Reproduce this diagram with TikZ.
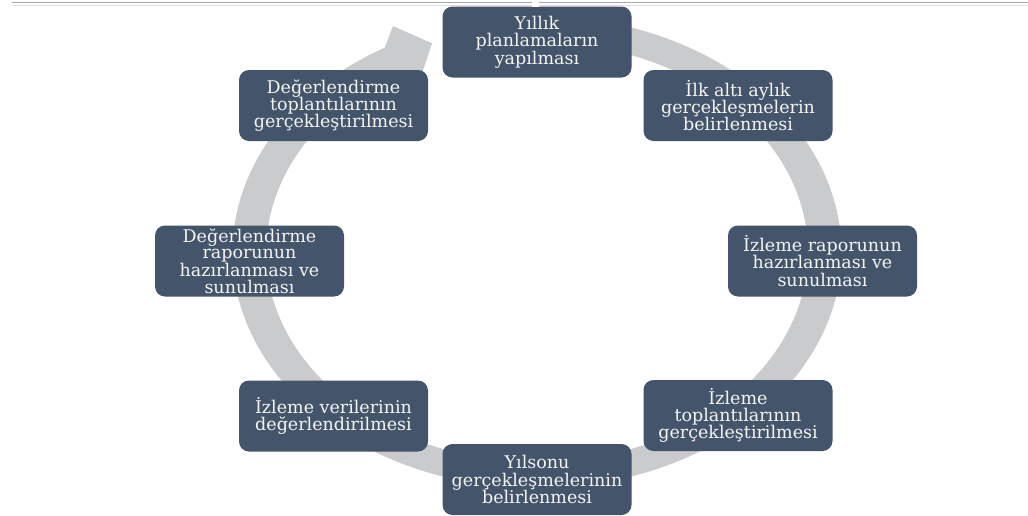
\documentclass[tikz,border=0pt]{standalone}
\usepackage{fontspec}
\setmainfont{DejaVu Serif}
\definecolor{boxc}{HTML}{44546A}
\definecolor{ringc}{HTML}{CACBCD}
\definecolor{txtc}{HTML}{F4F4F4}
\definecolor{linea}{HTML}{A8A8A8}
\definecolor{lineb}{HTML}{E0E0E0}
\begin{document}
\begin{tikzpicture}[x=1pt,y=-1pt,
  stagebox/.style={fill=boxc, rounded corners=10pt, minimum width=189pt,
    minimum height=71pt, inner sep=0pt, text=txtc, align=center,
    font=\fontsize{17.5}{17.3}\selectfont},
  tightbox/.style={stagebox, font=\fontsize{17.5}{16.5}\selectfont}]
\useasboundingbox[fill=white] (0,0) rectangle (1028,515);
% top rule
\draw[linea, line width=1.2pt] (12,2.6) -- (1028,2.6);
\draw[lineb, line width=1.2pt] (12,5.3) -- (1028,5.3);
% ring arrow: circle of centre radius 223, band 26, stretched horizontally
\begin{scope}[shift={(537,252)}, xscale=1.29, yscale=-1]
  \fill[ringc] (95:236) arc[start angle=95, end angle=-240, radius=236]
    -- (116.3:252) -- (111.3:224) -- (118:194)
    -- (120:210) arc[start angle=-240, end angle=95, radius=210] -- cycle;
\end{scope}
% stages
\node[stagebox] (top) at (537,42) {Yıllık\\planlamaların\\yapılması};
\node[stagebox] (ur) at (738,105.5) {İlk altı aylık\\gerçekleşmelerin\\belirlenmesi};
\node[stagebox] (rt) at (822.5,261) {İzleme raporunun\\hazırlanması ve\\sunulması};
\node[stagebox] (lr) at (738,415.5) {İzleme\\toplantılarının\\gerçekleştirilmesi};
\node[stagebox] (bt) at (537,479.5) {Yılsonu\\gerçekleşmelerinin\\belirlenmesi};
\node[stagebox] (ll) at (333.5,416) {İzleme verilerinin\\değerlendirilmesi};
\node[tightbox] (lt) at (249.5,261) {Değerlendirme\\raporunun\\hazırlanması ve\\sunulması};
\node[stagebox] (ul) at (333.5,105.5) {Değerlendirme\\toplantılarının\\gerçekleştirilmesi};
% small white mark above top box
\fill[white] (532,0.5) rectangle (539,6.5);
\end{tikzpicture}
\end{document}
